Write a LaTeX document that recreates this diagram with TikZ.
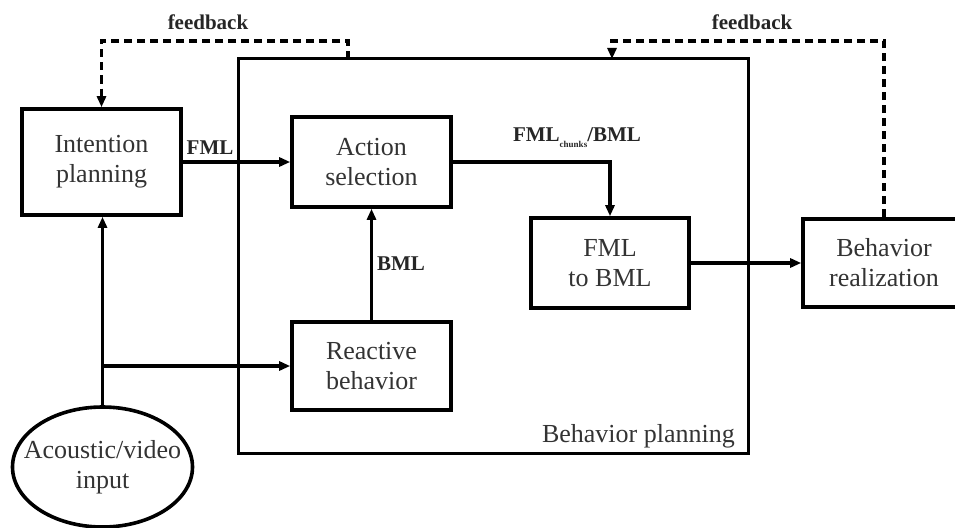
\documentclass[tikz,border=0pt]{standalone}
\usepackage{fontspec}
\setmainfont{Liberation Serif}
\usetikzlibrary{arrows.meta,shapes.geometric}
\begin{document}
\begin{tikzpicture}[x=1pt,y=-1pt,
  blk/.style={draw=black,line width=3.6pt,text=black!80,align=center,
    font=\fontsize{26}{30}\selectfont,inner sep=0pt},
  txt/.style={text=black!80,align=center,font=\fontsize{26}{30}\selectfont,inner sep=0pt},
  conn/.style={line width=3.2pt,-{Triangle[length=11pt,width=9pt]}},
  fb/.style={line width=3.2pt,dash pattern=on 8pt off 5pt},
  lbl/.style={font=\bfseries\fontsize{21}{24}\selectfont,text=black!85,inner sep=0pt}]
\useasboundingbox (0,0) rectangle (955,527);
% outer frame
\node[draw=black,line width=3pt,minimum width=510pt,minimum height=394pt,inner sep=0pt] (bp) at (493,256) {};
\node[txt,anchor=base east] (bplbl) at (735,442) {Behavior planning};
% blocks
\node[blk,minimum width=159pt,minimum height=106pt] (intent) at (101.5,162) {Intention\\planning};
\node[blk,minimum width=159pt,minimum height=90pt] (action) at (371.5,162) {Action\\selection};
\node[blk,minimum width=159pt,minimum height=88pt] (react) at (371.5,366) {Reactive\\behavior};
\node[blk,minimum width=158pt,minimum height=90pt] (f2b) at (610,263) {FML\\to BML};
\node[blk,minimum width=162pt,minimum height=88pt] (real) at (884,263) {Behavior\\realization};
\node[draw=black,line width=3.6pt,ellipse,minimum width=180pt,minimum height=120pt,inner sep=0pt] (input) at (102.5,467) {};
\node[txt] (inputtxt) at (input.center) {Acoustic/video\\input};
% connectors
\draw[conn] (intent.east) -- (action.west);
\draw[conn] (action.east) -| (f2b.north);
\draw[conn] (f2b.east) -- (real.west);
\draw[conn] (react.north) -- (action.south);
\draw[conn] (input.north) -- (input.north |- intent.south);
\coordinate (junc) at (input.north |- react.west);
\draw[conn] (junc) -- (react.west);
% feedback
\coordinate (fbA) at (348,59);
\coordinate (fbB) at (612,59);
\draw[fb,-{Triangle[length=11pt,width=9pt]}] (fbA) -- (348,41) -| (intent.north);
\draw[fb,-{Triangle[length=11pt,width=9pt]}] (real.north) |- (612,41) -- (fbB);
% labels
\node[lbl] (fbl1) at (208,22) {feedback};
\node[lbl] (fbl2) at (752,22) {feedback};
\node[lbl] (fml) at (210,148) {FML};
\node[lbl] (bml) at (401,264) {BML};
\node[lbl] (chunks) at (577,138) {FML\raisebox{-6pt}{\fontsize{9}{9}\selectfont chunks}/BML};
\end{tikzpicture}
\end{document}
